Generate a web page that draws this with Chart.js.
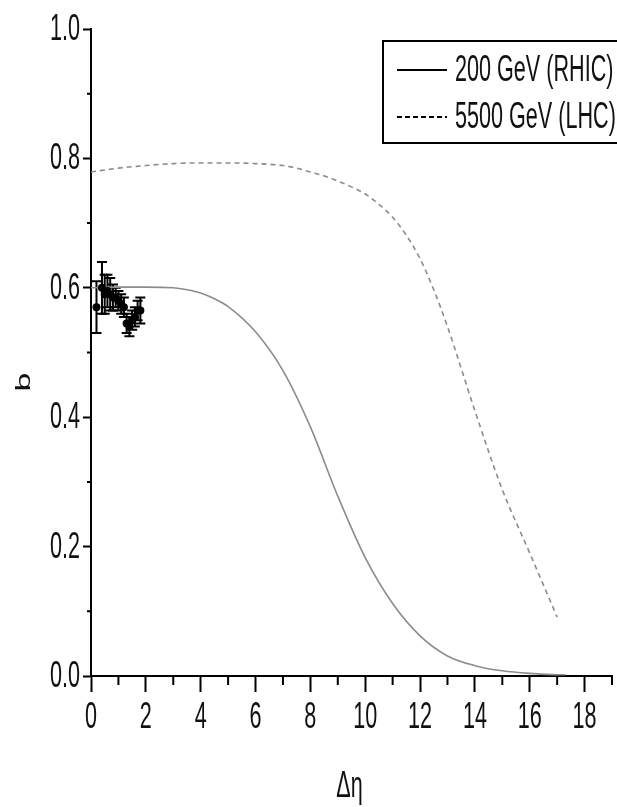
<!DOCTYPE html>
<html>
<head>
<meta charset="utf-8">
<script src="https://cdn.jsdelivr.net/npm/chart.js@4.4.1/dist/chart.umd.min.js"></script>
<style>
  html, body { margin: 0; padding: 0; background: #fff; }
  #wrap { width: 617px; height: 807px; }
</style>
</head>
<body>
<div id="wrap"><canvas id="bChart" width="617" height="807"></canvas></div>
<script>
// measured points (delta eta, b, error)
const dataEta = [0.2, 0.4, 0.5, 0.6, 0.7, 0.8, 0.9, 1.0, 1.1, 1.2, 1.3, 1.4, 1.5, 1.6, 1.7, 1.8];
const dataB   = [0.57, 0.60, 0.59, 0.595, 0.59, 0.585, 0.585, 0.58, 0.575, 0.57, 0.545, 0.54, 0.55, 0.555, 0.565, 0.565];
const dataErr = [0.04, 0.04, 0.03, 0.025, 0.025, 0.02, 0.015, 0.015, 0.015, 0.015, 0.015, 0.015, 0.015, 0.015, 0.015, 0.02];

// model curves
const rhicEta = [0, 1, 2, 3, 3.5, 4, 4.5, 5, 6, 7, 8, 9, 10, 11, 12, 13, 14, 15, 16, 17, 17.3];
const rhicB   = [0.600, 0.601, 0.601, 0.600, 0.597, 0.592, 0.583, 0.571, 0.532, 0.472, 0.385, 0.278, 0.183, 0.112, 0.062, 0.031, 0.016, 0.008, 0.004, 0.002, 0.002];
const lhcEta  = [0, 1, 2, 3, 4, 5, 6, 7, 7.5, 8, 8.5, 9, 9.5, 10, 10.5, 11, 11.5, 12, 12.5, 13, 14, 15, 16, 17];
const lhcB    = [0.779, 0.785, 0.789, 0.792, 0.793, 0.793, 0.792, 0.789, 0.785, 0.779, 0.773, 0.765, 0.756, 0.745, 0.729, 0.709, 0.681, 0.645, 0.597, 0.540, 0.410, 0.288, 0.190, 0.091];

const xTicks      = [0, 2, 4, 6, 8, 10, 12, 14, 16, 18];
const xMinorTicks = [1, 3, 5, 7, 9, 11, 13, 15, 17, 19];
const yTicks      = [0.0, 0.2, 0.4, 0.6, 0.8, 1.0];
const yMinorTicks = [0.1, 0.3, 0.5, 0.7, 0.9];

const legendLabels = ['200 GeV (RHIC)', '5500 GeV (LHC)'];
const xTitle = 'Δη';
const yTitle = 'b';

const FONT = '"Liberation Sans", Arial, sans-serif';
const SQUEEZE = 0.6;   // the original lettering is narrow

function squeezedText(ctx, text, x, y, size, align, baseline) {
  ctx.save();
  ctx.translate(x, y);
  ctx.scale(SQUEEZE, 1);
  ctx.font = size + 'px ' + FONT;
  ctx.textAlign = align;
  ctx.textBaseline = baseline;
  ctx.fillStyle = '#111';
  ctx.fillText(text, 0, 0);
  ctx.restore();
}

const errorBars = {
  id: 'errorBars',
  beforeDatasetsDraw(chart) {
    const { ctx, scales: { x, y } } = chart;
    ctx.save();
    ctx.strokeStyle = '#000';
    ctx.lineWidth = 2;
    dataEta.forEach((e, i) => {
      const px = x.getPixelForValue(e);
      const top = y.getPixelForValue(dataB[i] + dataErr[i]);
      const bot = y.getPixelForValue(dataB[i] - dataErr[i]);
      ctx.beginPath();
      ctx.moveTo(px, top); ctx.lineTo(px, bot);
      ctx.moveTo(px - 5, top); ctx.lineTo(px + 5, top);
      ctx.moveTo(px - 5, bot); ctx.lineTo(px + 5, bot);
      ctx.stroke();
    });
    ctx.restore();
  },
};

const axisDecor = {
  id: 'axisDecor',
  afterDraw(chart) {
    const { ctx, chartArea: a, scales: { x, y } } = chart;
    ctx.save();
    ctx.strokeStyle = '#000';
    ctx.lineWidth = 2;
    ctx.beginPath();
    xMinorTicks.forEach(v => {
      const px = x.getPixelForValue(v);
      ctx.moveTo(px, a.bottom); ctx.lineTo(px, a.bottom + 9);
    });
    yMinorTicks.forEach(v => {
      const py = y.getPixelForValue(v);
      ctx.moveTo(a.left, py); ctx.lineTo(a.left - 4, py);
    });
    ctx.stroke();
    ctx.restore();

    xTicks.forEach(v => squeezedText(ctx, String(v), x.getPixelForValue(v), a.bottom + 42, 36, 'center', 'middle'));
    yTicks.forEach(v => squeezedText(ctx, v.toFixed(1), a.left - 11, y.getPixelForValue(v) + 1, 36, 'right', 'middle'));

    squeezedText(ctx, xTitle, (a.left + a.right) / 2 - 2, 797, 36, 'center', 'alphabetic');

    ctx.save();
    ctx.translate(24, 382);
    ctx.rotate(-Math.PI / 2);
    ctx.scale(1, SQUEEZE);
    ctx.font = '34px ' + FONT;
    ctx.textAlign = 'center';
    ctx.textBaseline = 'middle';
    ctx.fillStyle = '#111';
    ctx.fillText(yTitle, 0, 0);
    ctx.restore();

    // legend box, running off the right edge like the original
    ctx.save();
    ctx.strokeStyle = '#000';
    ctx.lineWidth = 2;
    ctx.strokeRect(383, 41, 260, 102);
    ctx.beginPath();
    ctx.moveTo(397, 70); ctx.lineTo(447, 70);
    ctx.stroke();
    ctx.setLineDash([5, 3]);
    ctx.beginPath();
    ctx.moveTo(397, 117); ctx.lineTo(447, 117);
    ctx.stroke();
    ctx.restore();
    squeezedText(ctx, legendLabels[0], 455, 71, 36, 'left', 'middle');
    squeezedText(ctx, legendLabels[1], 455, 118, 36, 'left', 'middle');
  },
};

const cfg = {
  type: 'scatter',
  data: {
    datasets: [
      {
        label: 'data',
        data: dataEta.map((e, i) => ({ x: e, y: dataB[i] })),
        pointRadius: 4,
        pointBackgroundColor: '#000',
        pointBorderWidth: 0,
        showLine: false,
      },
      {
        label: legendLabels[0],
        data: rhicEta.map((e, i) => ({ x: e, y: rhicB[i] })),
        showLine: true,
        borderColor: '#8c8c8c',
        borderWidth: 1.6,
        pointRadius: 0,
        cubicInterpolationMode: 'monotone',
      },
      {
        label: legendLabels[1],
        data: lhcEta.map((e, i) => ({ x: e, y: lhcB[i] })),
        showLine: true,
        borderColor: '#8c8c8c',
        borderWidth: 1.6,
        borderDash: [5, 4],
        pointRadius: 0,
        cubicInterpolationMode: 'monotone',
      },
    ],
  },
  options: {
    responsive: false,
    animation: false,
    layout: { padding: { top: 29, right: 5, left: 0, bottom: 0 } },
    plugins: { legend: { display: false }, tooltip: { enabled: false } },
    scales: {
      x: {
        type: 'linear',
        min: 0, max: 19,
        border: { color: '#000', width: 2 },
        grid: { drawOnChartArea: false, tickLength: 16, tickColor: '#000', tickWidth: 2 },
        ticks: { stepSize: 2, includeBounds: false, display: false },
        afterFit: s => { s.height = 131; },
      },
      y: {
        type: 'linear',
        min: 0, max: 1,
        border: { color: '#000', width: 2 },
        grid: { drawOnChartArea: false, tickLength: 8, tickColor: '#000', tickWidth: 2 },
        ticks: { stepSize: 0.2, display: false },
        afterFit: s => { s.width = 91; },
      },
    },
  },
  plugins: [errorBars, axisDecor],
};

new Chart(document.getElementById('bChart').getContext('2d'), cfg);
</script>
</body>
</html>
